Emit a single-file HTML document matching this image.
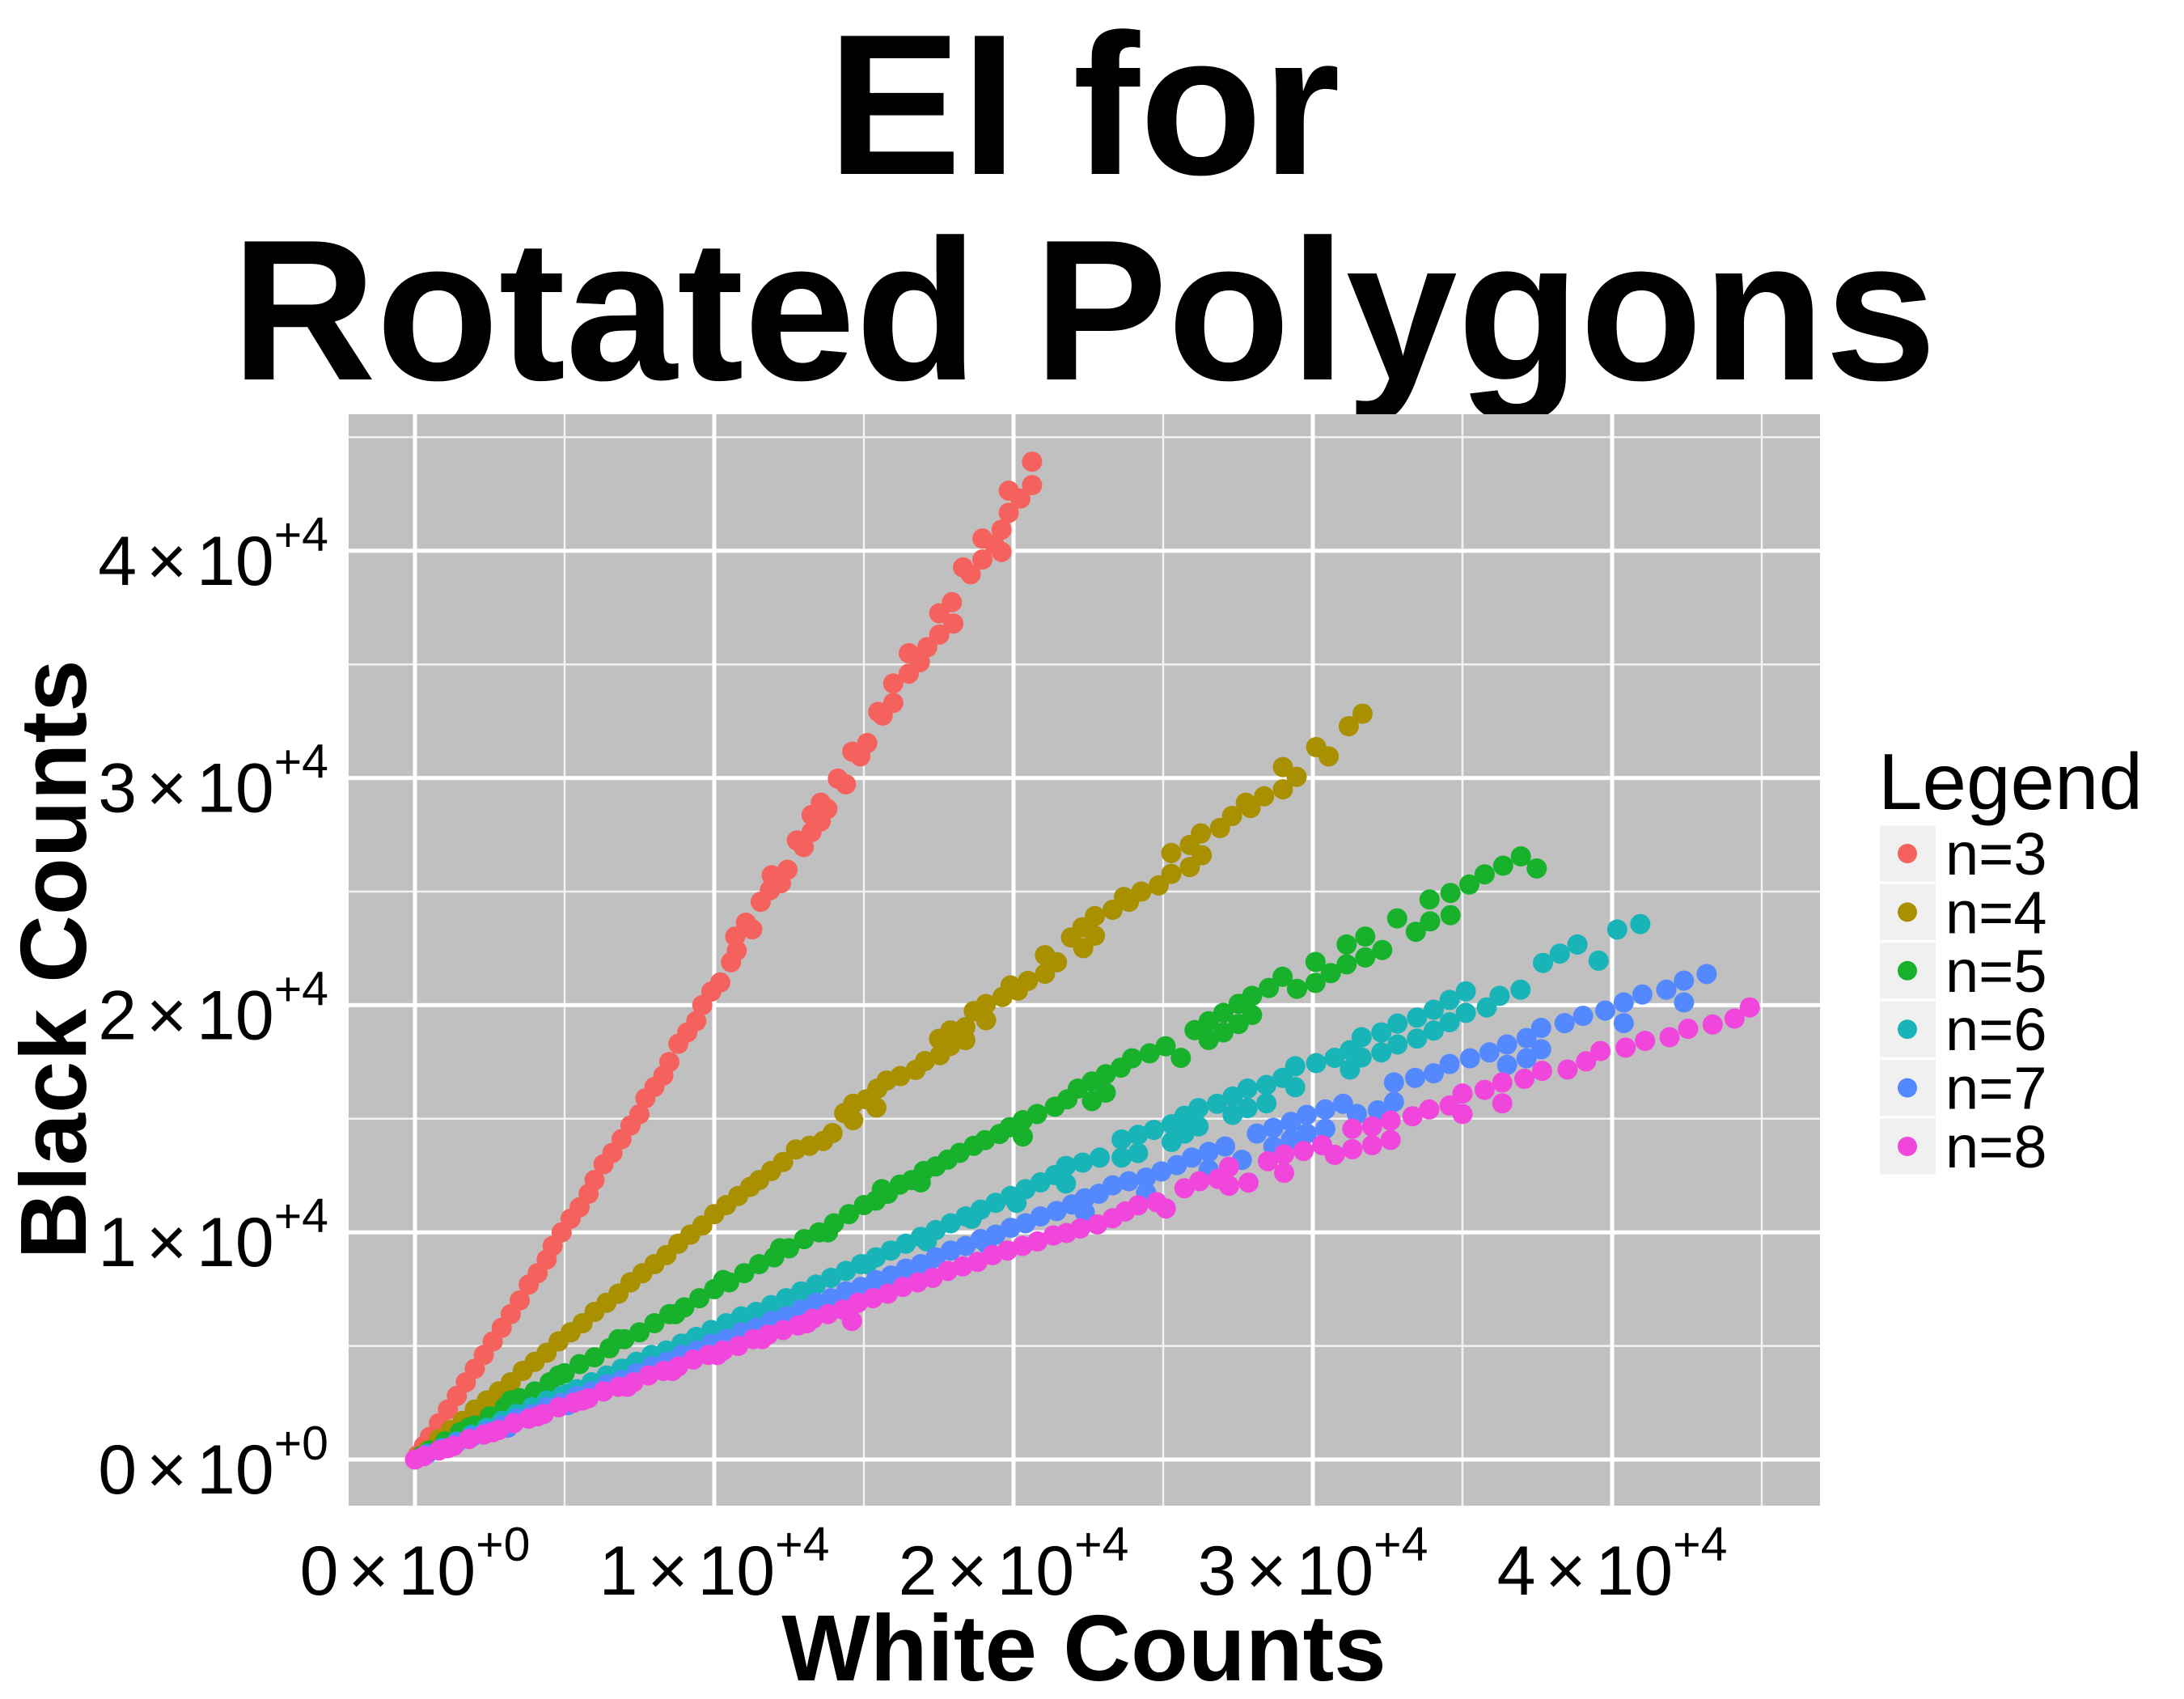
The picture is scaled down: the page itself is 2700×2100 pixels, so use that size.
<!DOCTYPE html>
<html><head><meta charset="utf-8"><title>EI for Rotated Polygons</title>
<style>
html,body{margin:0;padding:0;background:#fff;}
svg{display:block;}
text{font-family:"Liberation Sans",sans-serif;fill:#000;}
</style></head>
<body>
<svg id="chart" width="2700" height="2100" viewBox="0 0 2700 2100" xmlns="http://www.w3.org/2000/svg">
  <rect width="2700" height="2100" fill="#fff"/>
  <text x="1340" y="215" font-size="248" font-weight="bold" text-anchor="middle">EI for</text>
  <text x="1340" y="469" font-size="248" font-weight="bold" text-anchor="middle">Rotated Polygons</text>
  <rect x="431" y="512" width="1819" height="1349" fill="#c0c0c0"/>
  <g id="grid"></g>
  <g id="points"></g>
  <g id="yticks"></g>
  <g id="xticks"></g>
  <text x="1340" y="2077" font-size="116" font-weight="bold" text-anchor="middle">White Counts</text>
  <text x="0" y="0" font-size="116" font-weight="bold" text-anchor="middle" transform="translate(106,1186) rotate(-90)">Black Counts</text>
  <g id="legend">
    <text x="2322" y="1000" font-size="98">Legend</text>
  </g>
</svg>
<script>
// values in thousands of counts
const seriesNames = ["n=3","n=4","n=5","n=6","n=7","n=8"];
const seriesColors = ["#F5625D","#A89000","#17B12C","#18B4B8","#5488FF","#F046DC"];
const xTicks = [0,10,20,30,40];
const yTicks = [0,10,20,30,40];
const xTickMantissa = ["0","1","2","3","4"];
const xTickExp = ["+0","+4","+4","+4","+4"];
const yTickMantissa = ["0","1","2","3","4"];
const yTickExp = ["+0","+4","+4","+4","+4"];
const xMinor = [5,15,25,35,45];
const yMinor = [5,15,25,35,45];

const n3x = [20.62,20.62,19.84,20.23,19.84,19.60,18.96,19.35,19.60,18.96,18.31,18.57,17.94,17.52,17.99,17.52,17.12,16.50,16.87,16.50,15.98,15.98,15.48,15.63,15.11,14.61,14.88,14.13,14.40,13.56,13.78,13.25,13.56,13.25,12.76,12.99,12.45,11.92,12.23,11.86,11.55,11.06,11.27,10.70,10.75,10.56,10.2,9.9,9.6,9.4,9.1,8.8,8.5,8.3,8.0,7.7,7.5,7.2,6.9,6.6,6.3,6.0,5.8,5.5,5.2,4.9,4.6,4.4,4.1,3.8,3.5,3.2,2.9,2.6,2.3,2.0,1.7,1.4,1.1,0.8,0.5,0.3,0.1];
const n3y = [43.92,42.89,42.65,42.30,41.67,40.93,40.54,40.28,39.95,39.62,39.27,38.97,37.74,37.25,36.80,36.31,35.76,35.49,35.10,34.59,34.16,33.30,32.91,32.75,31.54,31.16,30.95,29.97,29.72,28.91,28.64,28.37,28.09,27.62,27.25,26.96,25.96,25.72,25.37,25.06,24.55,23.63,23.34,23.02,22.40,21.89,21.0,20.6,20.0,19.3,18.8,18.3,17.5,16.9,16.4,15.9,15.2,14.7,14.1,13.5,13.0,12.3,11.7,11.1,10.6,10.0,9.4,8.8,8.2,7.7,7.0,6.4,5.8,5.2,4.6,4.0,3.4,2.8,2.2,1.6,1.0,0.6,0.2];

const n4x = [31.66,31.20,30.11,30.53,29.00,29.46,29.00,28.37,27.76,27.92,27.30,26.90,26.26,25.89,26.29,25.27,25.27,25.89,24.85,24.27,23.86,23.69,23.31,22.72,22.30,22.72,21.92,22.33,21.45,21.05,21.05,20.48,20.15,19.90,19.63,19.08,18.67,19.08,18.39,17.89,17.51,18.39,17.89,17.54,17.04,16.73,16.22,15.76,15.45,15.08,15.42,14.64,14.64,14.34,13.95,13.64,13.18,12.73,12.3,11.9,11.5,11.2,10.8,10.4,10.0,9.6,9.2,8.8,8.4,8.0,7.6,7.2,6.8,6.4,6.0,5.6,5.2,4.8,4.4,4.0,3.6,3.2,2.8,2.4,2.0,1.6,1.2,0.8,0.4,0.1];
const n4y = [32.83,32.28,31.36,30.95,30.48,30.05,29.50,29.19,28.91,28.68,28.33,27.80,27.56,27.05,26.60,26.70,25.78,26.08,25.27,25.00,24.55,24.76,24.20,23.92,23.43,23.06,22.98,22.51,21.89,22.20,21.38,21.07,20.64,20.87,20.36,20.05,19.74,19.34,19.03,18.89,18.52,18.46,18.21,17.80,17.54,17.15,16.88,16.68,16.33,15.86,15.49,15.66,14.94,15.25,14.37,14.02,13.81,13.65,13.1,12.7,12.3,12.0,11.6,11.2,10.8,10.3,9.9,9.5,9.0,8.6,8.2,7.8,7.3,6.9,6.5,6.0,5.6,5.2,4.7,4.3,3.9,3.4,3.0,2.6,2.2,1.7,1.3,0.9,0.4,0.1];

const n5x = [37.48,36.95,36.36,35.74,35.23,34.60,33.90,34.60,33.92,33.44,32.82,32.32,31.75,31.75,31.13,31.13,30.60,30.09,30.09,29.47,28.99,28.53,27.97,27.97,27.52,27.52,27.01,27.01,26.52,26.52,26.05,25.59,25.08,24.55,23.96,23.58,23.08,23.08,22.62,22.62,22.15,21.80,21.38,20.79,20.31,20.31,19.87,19.53,19.05,18.67,18.2,17.8,17.4,17.0,16.6,16.2,15.8,15.4,15.0,14.5,14.0,13.5,13.0,12.5,12.0,11.5,11.0,10.5,10.0,9.5,9.0,8.5,8.0,7.5,7.0,6.5,6.0,5.5,5.0,4.5,4.0,3.5,3.0,2.5,2.0,1.5,1.0,0.5,0.2,16.9,15.6,13.8,12.2,10.3,8.7,6.8,4.8,3.2,1.8];
const n5y = [26.02,26.55,26.14,25.76,25.31,24.94,24.65,23.96,23.69,23.23,23.82,22.43,23.02,22.10,22.67,21.80,21.41,21.90,20.98,20.72,21.25,20.76,20.41,19.57,20.06,19.17,19.66,18.80,19.29,18.47,18.90,17.68,18.19,17.88,17.66,17.25,16.96,16.15,16.64,15.78,16.33,15.86,15.53,15.21,14.94,14.22,14.63,14.33,14.06,13.81,13.5,13.2,12.9,12.7,12.3,12.1,11.7,11.4,11.2,10.8,10.4,10.0,9.7,9.3,8.9,8.6,8.2,7.8,7.5,7.1,6.7,6.4,6.0,5.6,5.3,4.9,4.5,4.2,3.8,3.4,3.0,2.7,2.3,1.9,1.5,1.2,0.8,0.4,0.15,12.2,11.9,10.0,9.3,7.9,6.4,5.3,3.7,2.6,1.4];

const n6x = [40.94,40.17,39.55,38.84,38.25,37.69,36.94,36.24,35.81,35.11,35.11,34.57,34.57,34.04,34.04,33.48,33.48,32.83,32.83,32.29,32.29,31.63,31.63,31.24,31.24,30.73,30.11,29.41,29.41,28.99,28.45,28.45,27.82,27.82,27.32,27.32,26.80,26.18,26.18,25.71,25.71,25.28,25.28,24.69,24.16,24.16,23.61,23.61,22.88,22.31,21.75,21.75,21.38,20.9,20.4,19.9,19.4,18.9,18.4,17.9,17.4,16.9,16.4,15.9,15.4,14.9,14.4,13.9,13.4,12.9,12.4,11.9,11.4,10.9,10.4,9.9,9.4,8.9,8.4,7.9,7.4,6.9,6.4,5.9,5.4,4.9,4.4,3.9,3.4,2.9,2.4,1.9,1.4,0.9,0.4,20.1,18.6,17.1,15.1,13.1,11.1,9.1,7.1,5.1,3.1];
const n6y = [23.57,23.33,21.96,22.67,22.27,21.86,20.68,20.41,19.90,20.61,19.66,20.23,19.25,19.80,18.88,19.45,18.53,19.19,18.27,18.80,17.92,18.59,17.70,18.02,17.17,17.68,17.45,17.31,16.39,16.80,16.49,15.68,16.33,15.47,15.98,15.17,15.66,15.47,14.66,15.13,14.35,14.76,13.98,14.51,14.29,13.49,14.09,13.29,13.29,13.07,12.92,12.15,12.52,12.2,11.9,11.6,11.3,11.0,10.7,10.4,10.1,9.8,9.5,9.2,8.9,8.6,8.3,8.0,7.7,7.4,7.1,6.8,6.5,6.3,6.0,5.7,5.4,5.1,4.8,4.6,4.3,4.0,3.7,3.4,3.1,2.8,2.6,2.3,2.0,1.7,1.4,1.1,0.8,0.5,0.25,11.3,10.6,9.6,8.6,7.3,6.2,5.1,4.0,2.9,1.7];

const n7x = [43.16,42.40,42.40,41.81,41.01,40.39,40.39,39.77,39.03,38.41,37.63,37.63,37.14,37.14,36.49,36.49,35.90,35.25,34.57,34.04,33.42,32.71,32.71,32.17,31.47,31.01,30.42,30.42,29.80,29.80,29.27,29.27,28.68,28.68,28.13,27.63,27.07,26.52,26.52,25.96,25.46,24.94,24.43,24.43,23.85,23.31,22.85,22.38,22.38,21.95,21.44,20.9,20.4,19.9,19.4,18.9,18.4,17.9,17.4,16.9,16.4,15.9,15.4,14.9,14.4,13.9,13.4,12.9,12.4,11.9,11.4,10.9,10.4,9.9,9.4,8.9,8.4,7.9,7.4,6.9,6.4,5.9,5.4,4.9,4.4,3.9,3.4,2.9,2.4,1.9,1.4,0.9,0.4,19.1,17.1,15.1,13.1,11.1,9.1,7.1,5.1,3.1];
const n7y = [21.37,21.08,20.12,20.68,20.47,20.12,19.21,19.76,19.53,19.21,19.00,18.06,18.55,17.66,18.27,17.37,17.92,17.66,17.41,17.00,16.80,16.60,15.74,15.37,15.21,15.66,15.41,14.56,15.17,14.35,14.86,14.09,14.60,13.78,14.35,13.19,13.78,13.54,12.76,13.29,12.96,12.68,12.41,11.74,12.25,12.07,11.70,11.50,10.88,11.23,10.94,10.7,10.4,10.2,9.9,9.7,9.4,9.2,8.9,8.6,8.4,8.1,7.9,7.6,7.4,7.1,6.9,6.6,6.3,6.1,5.8,5.6,5.3,5.1,4.8,4.6,4.3,4.1,3.8,3.5,3.3,3.0,2.8,2.5,2.3,2.0,1.8,1.5,1.25,1.0,0.75,0.5,0.25,9.5,8.5,7.5,6.5,5.5,4.5,3.4,2.4,1.4];

const n8x = [44.60,44.09,43.36,42.54,41.92,41.10,40.45,39.61,39.13,38.51,37.66,37.07,36.33,36.33,35.74,35.00,35.00,34.57,33.89,33.33,32.60,32.60,31.98,31.98,31.32,31.32,30.73,30.31,29.69,29.04,29.04,28.50,27.85,27.20,27.20,26.83,26.21,25.71,25.09,24.78,24.16,23.73,23.31,22.80,22.23,21.77,21.33,20.8,20.3,19.8,19.3,18.8,18.3,17.8,17.3,16.8,16.3,15.8,15.3,14.8,14.3,13.8,13.3,12.8,12.3,11.8,11.3,10.8,10.3,9.8,9.3,8.8,8.3,7.8,7.3,6.8,6.3,5.8,5.3,4.8,4.3,3.8,3.3,2.8,2.3,1.8,1.3,0.8,0.3,0.0,14.6,13.1,11.6,10.1,8.6,7.1,5.6,4.1,2.6,1.1];
const n8y = [19.90,19.41,19.15,18.96,18.59,18.43,18.13,17.98,17.53,17.17,17.11,16.76,16.60,15.68,16.27,16.11,15.21,15.58,15.41,15.11,14.92,14.07,14.66,13.84,14.56,13.66,13.41,13.84,13.58,13.43,12.62,13.13,12.19,12.88,12.05,12.35,12.25,11.94,11.05,11.33,11.19,10.92,10.62,10.35,10.17,9.97,9.86,9.6,9.4,9.2,9.0,8.7,8.5,8.3,8.0,7.8,7.6,7.3,7.1,6.9,6.6,6.4,6.2,5.9,5.7,5.5,5.3,5.0,4.8,4.6,4.4,4.1,3.9,3.7,3.4,3.2,3.0,2.7,2.5,2.3,2.0,1.8,1.6,1.3,1.1,0.9,0.6,0.4,0.15,0.0,6.1,6.0,5.3,4.6,3.9,3.2,2.6,1.9,1.2,0.5];

const seriesX = [n3x,n4x,n5x,n6x,n7x,n8x];
const seriesY = [n3y,n4y,n5y,n6y,n7y,n8y];

const NS = "http://www.w3.org/2000/svg";
const PX0 = 431, PX1 = 2250, PY0 = 512, PY1 = 1861;
function xScale(v){ return 513 + v * 37.0; }
function yScale(v){ return 1804 - v * 28.08; }

const grid = document.getElementById('grid');
xMinor.forEach(function(v){
  const l = document.createElementNS(NS,'line');
  
  
  l.setAttribute('x1',xScale(v)); l.setAttribute('x2',xScale(v));
  l.setAttribute('y1',PY0); l.setAttribute('y2',PY1);
  l.setAttribute('stroke','#f2f2f2'); l.setAttribute('stroke-width','2.5');
  grid.appendChild(l);
});
yMinor.forEach(function(v){
  const l = document.createElementNS(NS,'line');
  
  
  l.setAttribute('y1',yScale(v)); l.setAttribute('y2',yScale(v));
  l.setAttribute('x1',PX0); l.setAttribute('x2',PX1);
  l.setAttribute('stroke','#f2f2f2'); l.setAttribute('stroke-width','2.5');
  grid.appendChild(l);
});
xTicks.forEach(function(v){
  const l = document.createElementNS(NS,'line');
  
  
  l.setAttribute('x1',xScale(v)); l.setAttribute('x2',xScale(v));
  l.setAttribute('y1',PY0); l.setAttribute('y2',PY1);
  l.setAttribute('stroke','#ffffff'); l.setAttribute('stroke-width','5');
  grid.appendChild(l);
});
yTicks.forEach(function(v){
  const l = document.createElementNS(NS,'line');
  
  
  l.setAttribute('y1',yScale(v)); l.setAttribute('y2',yScale(v));
  l.setAttribute('x1',PX0); l.setAttribute('x2',PX1);
  l.setAttribute('stroke','#ffffff'); l.setAttribute('stroke-width','5');
  grid.appendChild(l);
});

const pts = document.getElementById('points');
for (let s = 0; s < seriesX.length; s++) {
  const g = document.createElementNS(NS,'g');
  
  
  const xs = seriesX[s], ys = seriesY[s];
  for (let i = 0; i < xs.length; i++) {
    const c = document.createElementNS(NS,'circle');
    
    
    c.setAttribute('cx', xScale(xs[i]).toFixed(1));
    c.setAttribute('cy', yScale(ys[i]).toFixed(1));
    c.setAttribute('r','12.5');
    c.setAttribute('fill', seriesColors[s]);
    g.appendChild(c);
  }
  pts.appendChild(g);
}

function makeLabel(parent, mant, exp, anchorX, baseY, mode, name){
  const t = document.createElementNS(NS,'text');
  
  
  t.setAttribute('y', baseY);
  t.setAttribute('font-size','86');
  t.setAttribute('word-spacing','-12');
  const a = document.createElementNS(NS,'tspan');
  a.textContent = mant + ' \u00d7 10';
  const b = document.createElementNS(NS,'tspan');
  b.setAttribute('font-size','59');
  b.setAttribute('dy','-42');
  b.textContent = exp;
  t.appendChild(a); t.appendChild(b);
  t.setAttribute('x', anchorX);
  t.setAttribute('text-anchor', mode);
  parent.appendChild(t);
}
const yt = document.getElementById('yticks');
yTicks.forEach(function(v,i){
  makeLabel(yt, yTickMantissa[i], yTickExp[i], 406, yScale(v) + 42, 'end', 'y-tick-label');
});
const xt = document.getElementById('xticks');
xTicks.forEach(function(v,i){
  makeLabel(xt, xTickMantissa[i], xTickExp[i], xScale(v), 1971, 'middle', 'x-tick-label');
});

const lg = document.getElementById('legend');
seriesNames.forEach(function(name,i){
  const top = 1019 + i * 72.4;
  const r = document.createElementNS(NS,'rect');
  
  
  r.setAttribute('x',2324); r.setAttribute('y',top + 1.5);
  r.setAttribute('width',69); r.setAttribute('height',69);
  r.setAttribute('fill','#f0f0f0');
  lg.appendChild(r);
  const c = document.createElementNS(NS,'circle');
  
  
  c.setAttribute('cx',2358); c.setAttribute('cy',top + 36);
  c.setAttribute('r','12'); c.setAttribute('fill',seriesColors[i]);
  lg.appendChild(c);
  const t = document.createElementNS(NS,'text');
  
  
  t.setAttribute('x',2405); t.setAttribute('y',top + 62);
  t.setAttribute('font-size','74');
  t.textContent = name;
  lg.appendChild(t);
});
</script>
</body></html>
